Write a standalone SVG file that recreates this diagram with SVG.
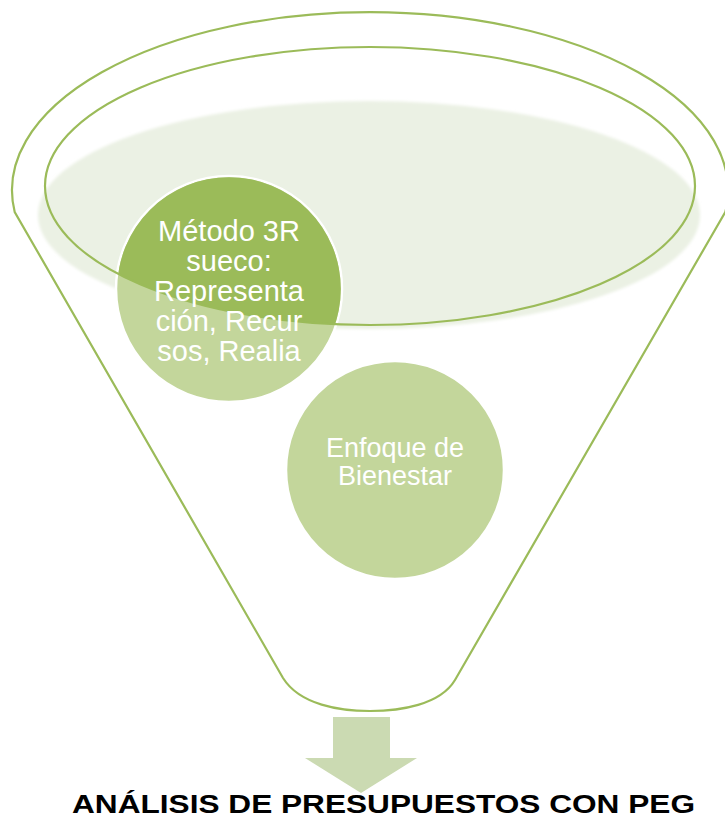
<svg xmlns="http://www.w3.org/2000/svg" width="725" height="819" viewBox="0 0 725 819">
<style>
.ln{fill:none;stroke:#9BBB59;stroke-width:2.2}
.ct{font-family:"Liberation Sans",Arial,sans-serif;fill:#FFFFFF;text-anchor:middle}
.lt{fill:#C3D69B;stroke:#FFFFFF;stroke-width:2.5}
</style>
<defs>
<clipPath id="innerClip"><ellipse cx="370" cy="186" rx="325" ry="139"/></clipPath>
<filter id="soft" x="-5%" y="-10%" width="110%" height="120%"><feGaussianBlur stdDeviation="1.5"/></filter>
</defs>
<rect width="725" height="819" fill="#FFFFFF"/>
<g id="funnel">
<path class="ln" d="M14.7,212 A358,178 0 1 1 725.3,212 L455,680 C440,705 400,711 370,711 C340,711 300,705 283,678 Z" style="fill:#FFFFFF"/>
<ellipse cx="369" cy="215" rx="331" ry="114" fill="#EBF1E4" filter="url(#soft)"/>
</g>
<g id="node1">
<circle class="lt" cx="229" cy="289" r="113"/>
<circle cx="229" cy="289" r="111.8" fill="#9BBB59" clip-path="url(#innerClip)"/>
</g>
<g id="node2">
<circle class="lt" cx="395" cy="470" r="109"/>
<text class="ct" font-size="27" x="395" y="457">Enfoque de</text>
<text class="ct" font-size="27" x="395" y="485">Bienestar</text>
</g>
<g id="rim">
<ellipse class="ln" cx="370" cy="186" rx="325" ry="139"/>
</g>
<g id="node1text">
<text class="ct" font-size="29" x="229" y="241">Método 3R</text>
<text class="ct" font-size="29" x="229" y="271">sueco:</text>
<text class="ct" font-size="29" x="229" y="301">Representa</text>
<text class="ct" font-size="29" x="229" y="331">ción, Recur</text>
<text class="ct" font-size="29" x="229" y="361">sos, Realia</text>
</g>
<g id="connectors">
<path d="M333,717 L390,717 L390,758 L417,758 L361,793 L305,758 L333,758 Z" fill="#CBDAB2"/>
</g>
<g id="result">
<text x="72" y="813" font-family="Liberation Sans,Arial,sans-serif" font-weight="bold" font-size="26" fill="#000000" textLength="623" lengthAdjust="spacingAndGlyphs">ANÁLISIS DE PRESUPUESTOS CON PEG</text>
</g>
</svg>
